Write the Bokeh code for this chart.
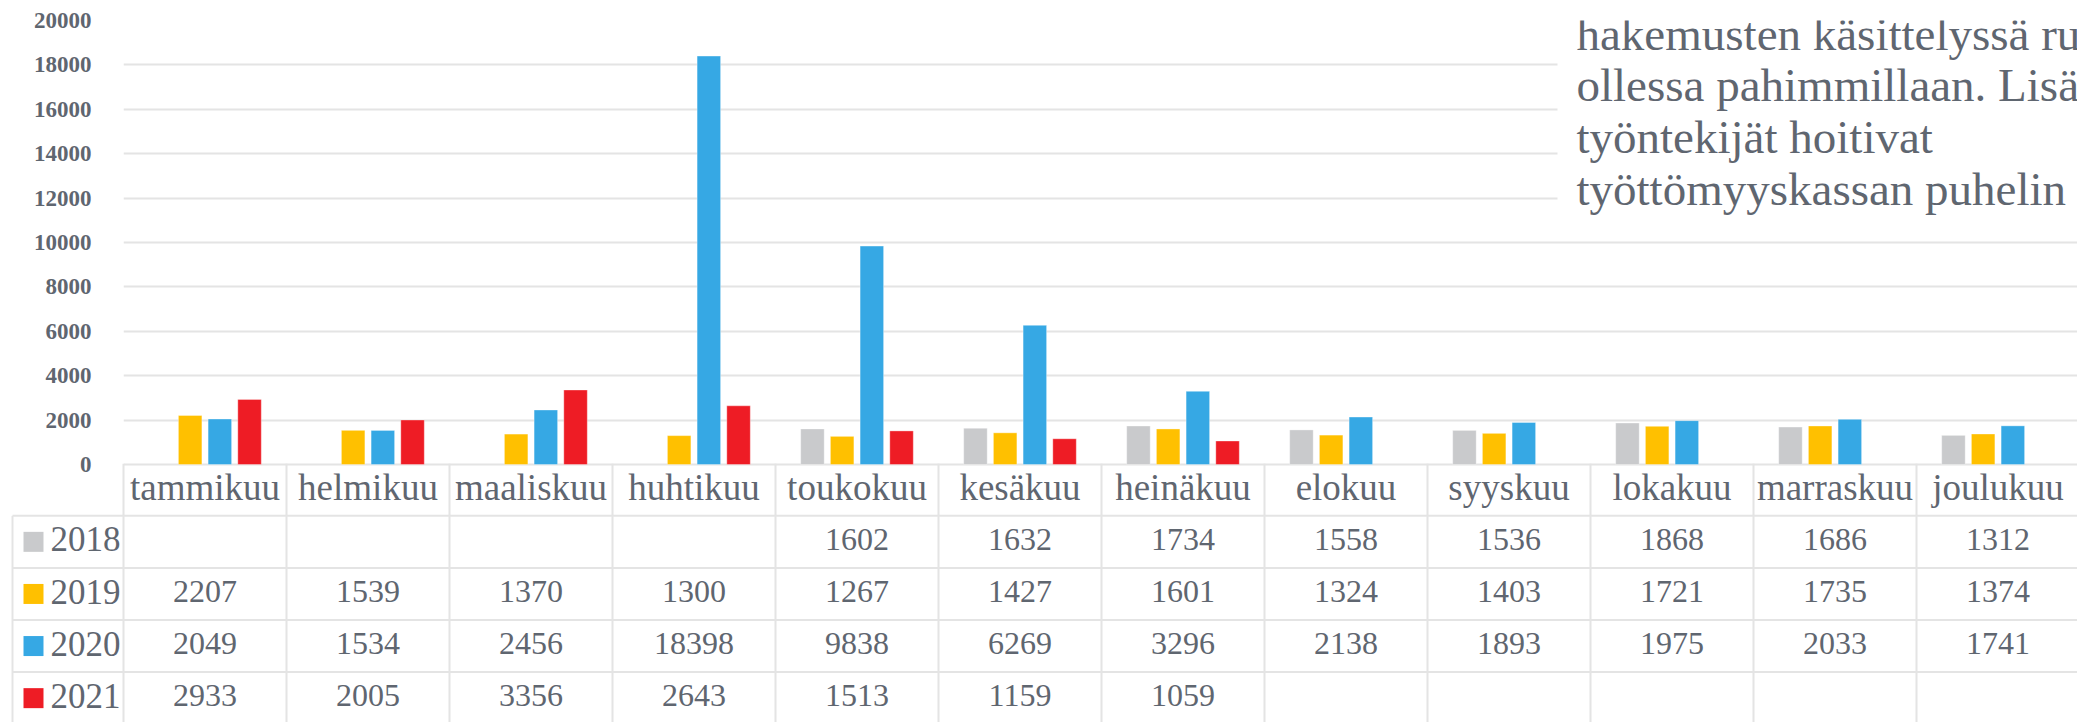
from bokeh.plotting import figure
from bokeh.models import ColumnDataSource, Range1d, FixedTicker, BoxAnnotation, Label
from bokeh.transform import dodge
from bokeh.core.properties import value
from bokeh.embed import file_html
from bokeh.resources import INLINE

# ---------------- data ----------------
months = ["tammikuu", "helmikuu", "maaliskuu", "huhtikuu", "toukokuu", "kesäkuu",
          "heinäkuu", "elokuu", "syyskuu", "lokakuu", "marraskuu", "joulukuu"]
years = ["2018", "2019", "2020", "2021"]
v2018 = [None, None, None, None, 1602, 1632, 1734, 1558, 1536, 1868, 1686, 1312]
v2019 = [2207, 1539, 1370, 1300, 1267, 1427, 1601, 1324, 1403, 1721, 1735, 1374]
v2020 = [2049, 1534, 2456, 18398, 9838, 6269, 3296, 2138, 1893, 1975, 2033, 1741]
v2021 = [2933, 2005, 3356, 2643, 1513, 1159, 1059, None, None, None, None, None]
y_ticks = list(range(0, 20001, 2000))
note_lines = ["hakemusten käsittelyssä ru",
              "ollessa pahimmillaan. Lisä",
              "työntekijät hoitivat",
              "työttömyyskassan puhelin"]

# ---------------- style ----------------
colors = ["#c9cacc", "#ffc000", "#36a8e4", "#ee1c25"]
TXT = "#5f6670"
GRID = "#e4e4e4"
FONT = "Liberation Serif"

W, H = 2077, 722
X0, CW = 123.0, 163.0          # left of first month column, column width (px)
FR_T = 20                      # top of plot frame (px) = 20000
Y0, YH = 464.0, 444.0          # chart baseline (px), px for 20000
ROW_TOP, RH = 515.3, 52.1      # top of first table row, row height (px)
LIFT = 12.0                    # baseline correction for text rendering (px)


def px2x(px):
    return (px - X0) / CW


def py2v(py):
    return (Y0 - py) / YH * 20000.0


series = [v2018, v2019, v2020, v2021]
nan = float("nan")

p = figure(width=W, height=H,
           x_range=Range1d(0, px2x(W)), y_range=Range1d(py2v(H), 20000),
           output_backend="svg", toolbar_location=None, x_axis_location=None,
           min_border_left=int(X0), min_border_right=0, min_border_top=FR_T,
           min_border_bottom=0)
p.extra_y_ranges = {"rows": Range1d(start=(H - ROW_TOP) / RH, end=(FR_T - ROW_TOP) / RH)}
p.outline_line_color = None
p.background_fill_color = "white"
p.border_fill_color = "white"

# ---------------- bars ----------------
src = ColumnDataSource(dict(
    xc=[i + 0.5 for i in range(len(months))],
    **{"y" + yr: [nan if v is None else v for v in s] for yr, s in zip(years, series)}
))
step = 29.7 / CW
bw = 23.5 / CW
for k, (yr, c) in enumerate(zip(years, colors)):
    p.vbar(x=dodge("xc", (k - 1.5) * step), top="y" + yr, bottom=0, width=bw, source=src,
           fill_color=c, line_color="white", line_alpha=0.35, line_width=1)

# ---------------- y axis & grid ----------------
ya = p.yaxis[0]
ya.ticker = FixedTicker(ticks=y_ticks)
ya.major_label_text_font = FONT
ya.major_label_text_font_style = "bold"
ya.major_label_text_font_size = "23px"
ya.major_label_text_color = TXT
ya.axis_line_color = None
ya.major_tick_line_color = None
ya.minor_tick_line_color = None
ya.major_label_standoff = 26

p.xgrid.grid_line_color = None
p.ygrid.ticker = FixedTicker(ticks=y_ticks)
p.ygrid.grid_line_color = GRID
p.ygrid.grid_line_width = 2

# ---------------- data table ----------------
nrows = len(years)
ncols = len(months)
leg_left = px2x(12)
p.segment(x0=list(range(ncols + 1)), x1=list(range(ncols + 1)),
          y0=[-1] * (ncols + 1), y1=[nrows] * (ncols + 1),
          y_range_name="rows", line_color=GRID, line_width=2, level="overlay")
p.segment(x0=[leg_left], x1=[leg_left], y0=[0], y1=[nrows], y_range_name="rows",
          line_color=GRID, line_width=2, level="overlay")
p.segment(x0=[leg_left] * (nrows + 1), x1=[ncols] * (nrows + 1),
          y0=list(range(nrows + 1)), y1=list(range(nrows + 1)),
          y_range_name="rows", line_color=GRID, line_width=2, level="overlay")

BASE = (35.6 - LIFT) / RH
HDR_BASE = (35.6 - LIFT) / RH
p.text(x=[i + 0.5 for i in range(ncols)], y=[-1 + HDR_BASE] * ncols, text=months,
       y_range_name="rows", text_font=value(FONT), text_font_size=value("37px"),
       text_color=TXT, text_align="center", text_baseline="alphabetic")

xs, ys, txt = [], [], []
for r, s in enumerate(series):
    for i, v in enumerate(s):
        if v is not None:
            xs.append(i + 0.5)
            ys.append(r + BASE)
            txt.append(str(v))
p.text(x=xs, y=ys, text=txt, y_range_name="rows", text_font=value(FONT),
       text_font_size=value("32px"), text_color=TXT, text_align="center",
       text_baseline="alphabetic")

# legend keys (left column of the table)
p.rect(x=[px2x(33)] * nrows, y=[r + 0.5 for r in range(nrows)], width=20, height=20,
       width_units="screen", height_units="screen", y_range_name="rows",
       fill_color=colors, line_color=None, level="overlay")
p.text(x=[px2x(50)] * nrows, y=[r + BASE for r in range(nrows)], text=years,
       y_range_name="rows", text_font=value(FONT), text_font_size=value("35px"),
       text_color=TXT, text_align="left", text_baseline="alphabetic", level="overlay")

# ---------------- overlapping text box (top right) ----------------
p.add_layout(BoxAnnotation(left=px2x(1557), bottom=py2v(232), fill_color="white",
                           fill_alpha=1.0, line_alpha=0))
for k, line in enumerate(note_lines):
    p.add_layout(Label(x=px2x(1576), y=py2v(45 - LIFT + 51.7 * k), text=line,
                       text_font=FONT, text_font_size="47px", text_color=TXT,
                       text_align="left", text_baseline="alphabetic"))

open("out.html", "w").write(file_html(p, INLINE))
